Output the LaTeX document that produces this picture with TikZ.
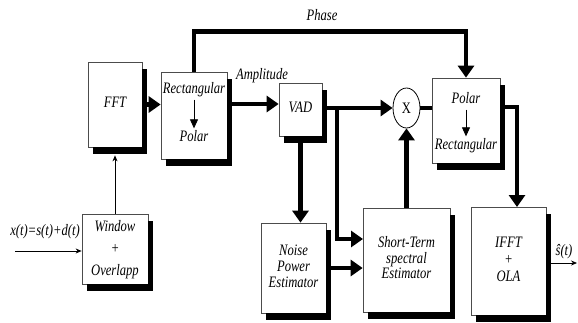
\documentclass[tikz,border=0pt]{standalone}
\usepackage{fontspec}
\usepackage{graphicx}
\setmainfont{Liberation Serif}
\usetikzlibrary{arrows.meta,shapes.geometric}
\newcommand{\tx}[2][17]{\scalebox{0.79}[1]{\fontsize{16}{#1}\selectfont\itshape\begin{tabular}{@{}c@{}}#2\end{tabular}}}
\begin{document}
\begin{tikzpicture}[x=1bp,y=-1bp,
  box/.style={draw=black!70, line width=0.7bp, fill=white, inner sep=0pt},
  shdr/.style={draw=black, line width=5bp, line cap=butt},
  shdb/.style={draw=black, line width=7bp, line cap=butt},
  lbl/.style={inner sep=1bp},
  thk/.style={line width=4.5bp, -{Triangle[length=12bp,width=16bp]}},
  thkn/.style={line width=4.5bp},
  thinar/.style={line width=0.8bp, -{Triangle[length=9bp,width=8bp]}},
  thinb/.style={line width=0.7bp, -{Stealth[length=6bp,width=5bp]}}]
\useasboundingbox (0,0) rectangle (578,322);
% boxes
\node[box, minimum width=54bp, minimum height=85bp] (fft) at (115,104.5) {\tx{FFT}};
\node[box, minimum width=66bp, minimum height=87bp] (rp) at (194,115.5) {};
\node[lbl] (rpa) at (194,90) {\tx{Rectangular}};
\node[lbl] (rpb) at (194,138) {\tx{Polar}};
\node[box, minimum width=43bp, minimum height=53bp] (vad) at (300.5,109.5) {\tx{VAD}};
\node[draw, ellipse, line width=0.8bp, minimum width=27bp, minimum height=40bp, inner sep=0pt, fill=white] (xm) at (406.5,108) {\scalebox{0.79}[1]{\fontsize{16}{18}\selectfont X}};
\node[box, minimum width=68bp, minimum height=85bp] (pr) at (466,120.5) {};
\node[lbl] (pra) at (466,100) {\tx{Polar}};
\node[lbl] (prb) at (466,146) {\tx{Rectangular}};
\node[box, minimum width=66bp, minimum height=70bp] (win) at (115,249) {\tx[22]{Window\\+\\Overlapp}};
\node[box, minimum width=65bp, minimum height=90bp] (noise) at (293.5,268) {\tx[16]{Noise\\Power\\Estimator}};
\node[box, minimum width=87bp, minimum height=104bp] (st) at (406.5,260) {\tx[15.5]{Short-Term\\spectral\\Estimator}};
\node[box, minimum width=75bp, minimum height=108bp] (ifft) at (508.5,261) {\tx[17]{IFFT\\+\\OLA}};
% shadows as thick strokes along right and bottom edges
\foreach \a/\b/\c/\d in {88/62/142/147, 161/72/227/159, 279/83/322/136, 432/78/500/163,
    82/214/148/284, 261/223/326/313, 363/208/450/312, 471/207/546/315}{
  \draw[shdr] (\c+2.5,\b+7) -- (\c+2.5,\d+7);
  \draw[shdb] (\a+5,\d+3.5) -- (\c+5,\d+3.5);
}
% labels
\node[lbl] (phl) at (322,17) {\tx{Phase}};
\node[lbl] (aml) at (262,76) {\tx{Amplitude}};
\node[lbl] (inl) at (45,232) {\tx{x(t)=s(t)+d(t)}};
\node[lbl] (outl) at (564,252) {\tx{\^{s}(t)}};
% coordinates
\coordinate (amp) at (250,104);
\coordinate (br) at (337,108);
\coordinate (stin) at (363,239);
\coordinate (pout) at (505,107);
\coordinate (ifin) at (517,207);
\coordinate (inp) at (15,251);
\coordinate (outp) at (577,263);
% connectors
\draw[thinar] (rpa) -- (rpb);
\draw[thinar] (pra) -- (prb);
\draw[thk] (fft.east) -- (rp.west |- fft.east);
\draw[thk] (rp.east |- amp) -- (vad.west |- amp);
\draw[thk] (rp.north) -- ++(0,-40) -| (pr.north);
\draw[thk] (vad.east |- xm.west) -- (xm.west);
\draw[thk] (br) |- (stin);
\draw[thk] (vad.south) -- (vad.south |- noise.north);
\draw[thk] (noise.east) -- (st.west |- noise.east);
\draw[thk] (st.north) -- (xm.south);
\draw[thkn] (xm.east) -- (pr.west |- xm.east);
\draw[thk] (pout) -| (ifin);
\draw[thinb] (inp) -- (win.west |- inp);
\draw[thinb] (win.north) -- ([yshift=-8bp]fft.south);
\draw[thinb] (ifft.east |- outp) -- (outp);
\end{tikzpicture}
\end{document}
